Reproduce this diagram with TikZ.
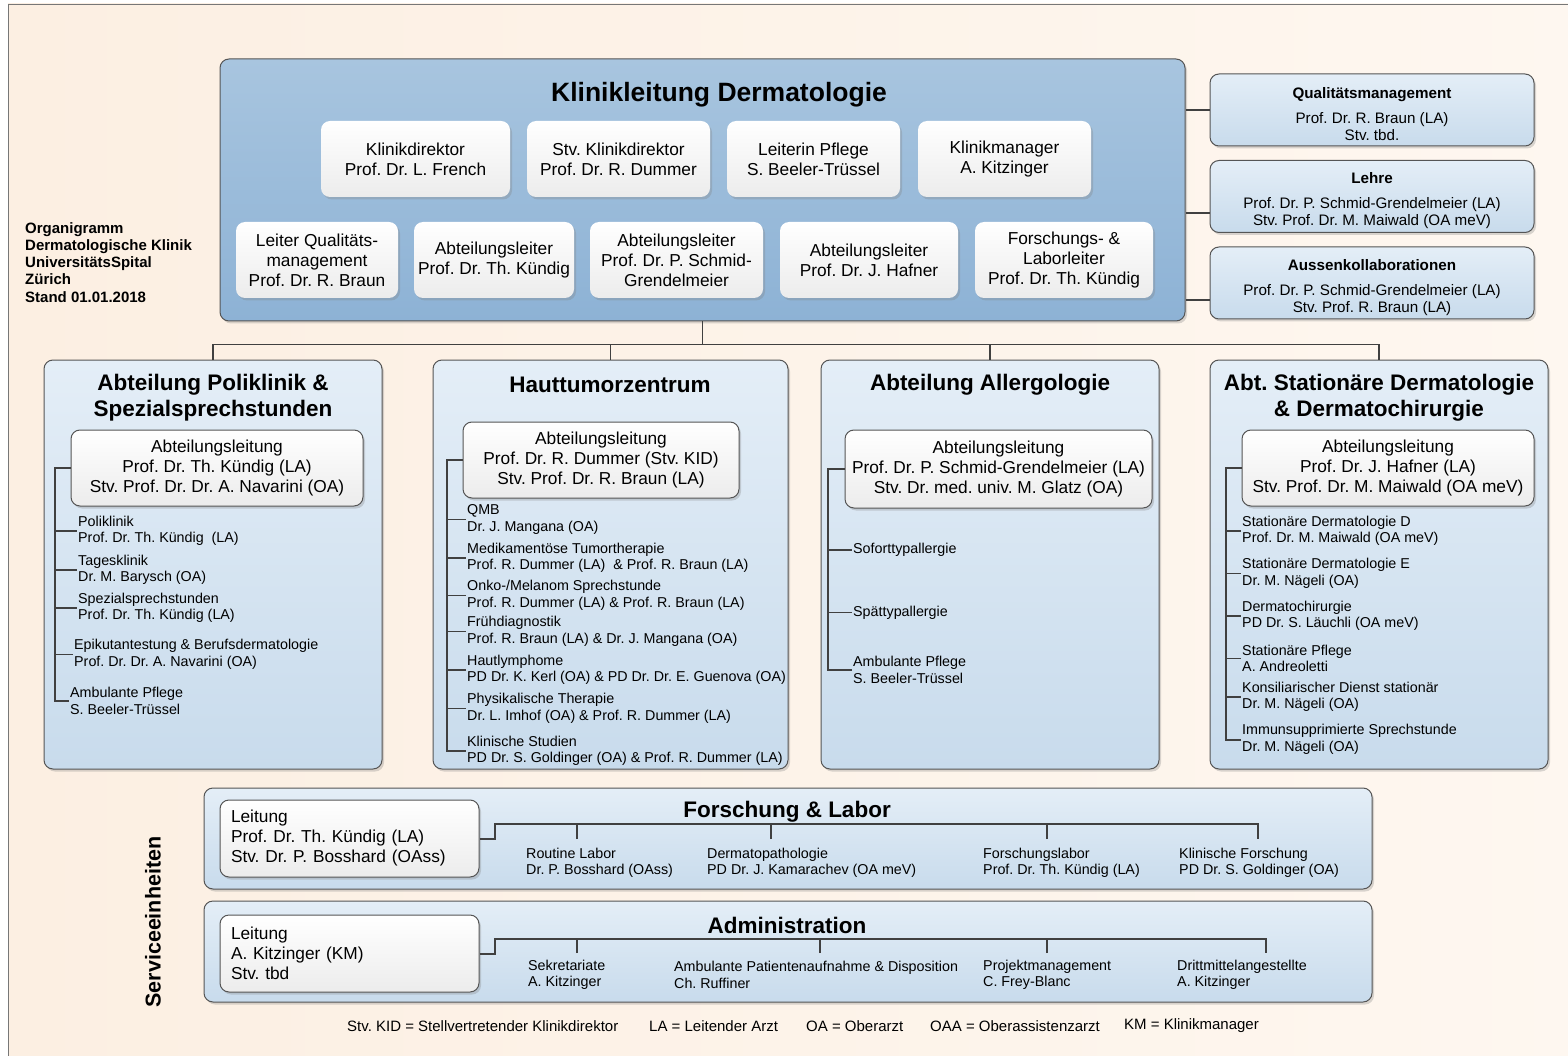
\documentclass[tikz,border=0pt]{standalone}
\usepackage{fontspec}
\setmainfont{Liberation Sans}
\usetikzlibrary{shadows}
\frenchspacing

\definecolor{bgLeft}{RGB}{252,239,226}
\definecolor{bgRight}{RGB}{254,247,240}
\definecolor{klTop}{RGB}{168,197,223}
\definecolor{klBot}{RGB}{141,178,213}
\definecolor{ltTop}{RGB}{228,238,247}
\definecolor{ltBot}{RGB}{200,219,236}
\definecolor{wBot}{RGB}{236,236,236}
\definecolor{edge}{RGB}{85,85,85}
\definecolor{wire}{RGB}{64,64,64}

\begin{document}
\begin{tikzpicture}[x=1pt,y=-1pt,
	wire/.style={draw=wire,line width=1.5pt},
	spine/.style={draw=wire,line width=2pt},
	shadebox/.style={rounded corners=9pt,drop shadow={shadow xshift=2pt,shadow yshift=-2.5pt,opacity=0.3}},
	klbox/.style={shadebox,draw=edge,line width=1pt,top color=klTop,bottom color=klBot},
	lightbox/.style={shadebox,draw=edge,line width=1pt,top color=ltTop,bottom color=ltBot},
	whitebox/.style={shadebox,top color=white,bottom color=wBot,font=\fontsize{17.3}{20}\selectfont,align=center},
	leitbox/.style={whitebox,draw=edge,line width=1pt},
	sleitbox/.style={leitbox,minimum width=259pt,minimum height=77pt,text width=237pt,inner xsep=11pt,align=left},
	sidebox/.style={lightbox,minimum width=324pt,minimum height=72pt},
	sidetext/.style={font=\fontsize{15.2}{17}\selectfont,align=center},
	deptbox/.style={lightbox,minimum height=409pt},
	servbox/.style={lightbox,minimum width=1168pt,minimum height=101pt},
	bigtitle/.style={font=\bfseries\fontsize{26.5}{30}\selectfont,yshift=-2.5pt},
	depttitle/.style={font=\bfseries\fontsize{22.5}{26}\selectfont,align=center,yshift=-2.5pt},
	item/.style={font=\fontsize{14.3}{16.5}\selectfont,align=left,anchor=west,inner sep=1.5pt,yshift=-2pt},
	legend/.style={font=\fontsize{15}{17}\selectfont,anchor=west,inner sep=0pt,yshift=-2pt}
	]
	\useasboundingbox (0,0) rectangle (1568,1056);
	\clip (0,0) rectangle (1568,1056);
	\fill[white] (0,0) rectangle (1568,1056);
	\draw[edge!80,left color=bgLeft,right color=bgRight] (8,4) rectangle (1590,1080);

	\node[font=\bfseries\fontsize{15}{17.25}\selectfont,align=left,anchor=north west,inner sep=0pt] (info) at (25,222)
		{Organigramm\\Dermatologische Klinik\\UniversitätsSpital\\Zürich\\Stand 01.01.2018};

	% Klinikleitung
	\node[klbox,minimum width=965pt,minimum height=262pt] (kl) at (702.5,190) {};
	\node[bigtitle] (kltitle) at (719,92) {Klinikleitung Dermatologie};
	\node[whitebox,minimum width=189pt,minimum height=76pt] (kd) at (415.5,159) {Klinikdirektor\\Prof. Dr. L. French};
	\node[whitebox,minimum width=183pt,minimum height=76pt] (skd) at (618.5,159) {Stv. Klinikdirektor\\Prof. Dr. R. Dummer};
	\node[whitebox,minimum width=173pt,minimum height=76pt] (lp) at (813.5,159) {Leiterin Pflege\\S. Beeler-Trüssel};
	\node[whitebox,minimum width=173pt,minimum height=76pt] (km) at (1004.5,159) {Klinikmanager\\A. Kitzinger};
	\node[whitebox,minimum width=162pt,minimum height=76pt] (lq) at (317,260) {Leiter Qualitäts-\\management\\Prof. Dr. R. Braun};
	\node[whitebox,minimum width=160pt,minimum height=76pt] (ak) at (494,260) {Abteilungsleiter\\Prof. Dr. Th. Kündig};
	\node[whitebox,minimum width=173pt,minimum height=76pt] (asg) at (676.5,260) {Abteilungsleiter\\Prof. Dr. P. Schmid-\\Grendelmeier};
	\node[whitebox,minimum width=178pt,minimum height=76pt] (ah) at (869,260) {Abteilungsleiter\\Prof. Dr. J. Hafner};
	\node[whitebox,minimum width=178pt,minimum height=76pt] (fl) at (1064,260) {Forschungs- \&\\Laborleiter\\Prof. Dr. Th. Kündig};

	% Stabsstellen
	\node[sidebox] (qm) at (1372,110) {};
	\node[sidetext] (qmt) at ([yshift=-4.5pt]qm.center) {\textbf{Qualitätsmanagement}\\[8pt]Prof. Dr. R. Braun (LA)\\Stv. tbd.};
	\node[sidebox] (le) at (1372,196.5) {};
	\node[sidetext] (let) at ([yshift=-4.5pt]le.center) {\textbf{Lehre}\\[8pt]Prof. Dr. P. Schmid-Grendelmeier (LA)\\Stv. Prof. Dr. M. Maiwald (OA meV)};
	\node[sidebox] (ak2) at (1372,283) {};
	\node[sidetext] (ak2t) at ([yshift=-4.5pt]ak2.center) {\textbf{Aussenkollaborationen}\\[8pt]Prof. Dr. P. Schmid-Grendelmeier (LA)\\Stv. Prof. R. Braun (LA)};
	\draw[wire] (kl.east |- qm.west) -- (qm.west);
	\draw[wire] ([yshift=-16.5pt]le.west -| kl.east) -- ([yshift=-16.5pt]le.west);
	\draw[wire] ([yshift=-17pt]ak2.west -| kl.east) -- ([yshift=-17pt]ak2.west);

	% Abteilungen
	\node[deptbox,minimum width=338pt] (poli) at (213,564.5) {};
	\node[deptbox,minimum width=355pt] (haut) at (610.5,564.5) {};
	\node[deptbox,minimum width=338pt] (aller) at (990,564.5) {};
	\node[deptbox,minimum width=338pt] (stat) at (1379,564.5) {};
	\draw[wire] (kl.south) -- ++(0,23) coordinate (bus);
	\draw[wire] (bus -| poli.north) -- (bus -| stat.north);
	\foreach \d in {poli,haut,aller,stat}
		\draw[wire] (bus -| \d.north) -- (\d.north);

	\node[depttitle] (politl) at (213,395) {Abteilung Poliklinik \&\\Spezialsprechstunden};
	\node[depttitle] (hauttl) at (610,382) {Hauttumorzentrum};
	\node[depttitle] (allertl) at (990,382) {Abteilung Allergologie};
	\node[depttitle] (stattl) at (1379,395) {Abt. Stationäre Dermatologie\\\& Dermatochirurgie};

	\node[leitbox,minimum width=292pt,minimum height=76pt] (pl) at (217,468) {Abteilungsleitung\\Prof. Dr. Th. Kündig (LA)\\Stv. Prof. Dr. Dr. A. Navarini (OA)};
	\node[leitbox,minimum width=276pt,minimum height=76pt] (hl) at (601,460) {Abteilungsleitung\\Prof. Dr. R. Dummer (Stv. KID)\\Stv. Prof. Dr. R. Braun (LA)};
	\node[leitbox,minimum width=307pt,minimum height=78pt] (al) at (998.5,469) {Abteilungsleitung\\Prof. Dr. P. Schmid-Grendelmeier (LA)\\Stv. Dr. med. univ. M. Glatz (OA)};
	\node[leitbox,minimum width=292pt,minimum height=76pt] (sl) at (1388,468) {Abteilungsleitung\\Prof. Dr. J. Hafner (LA)\\Stv. Prof. Dr. M. Maiwald (OA meV)};

	\foreach \x/\y/\t [count=\i] in {
		78/529/{Poliklinik\\Prof. Dr. Th. Kündig\ \ (LA)},
		78/568/{Tagesklinik\\Dr. M. Barysch (OA)},
		78/606/{Spezialsprechstunden\\Prof. Dr. Th. Kündig (LA)},
		74/652.5/{Epikutantestung \& Berufsdermatologie\\Prof. Dr. Dr. A. Navarini (OA)},
		70/699/{Ambulante Pflege\\S. Beeler-Trüssel}}
		\node[item] (p\i) at (\x-1.5,\y) {\t};
	\draw[spine] (pl.west) -- ++(-16,0) coordinate (pspine) |- (p5.west);
	\foreach \i in {1,...,4}
		\draw[wire] (p\i.west -| pspine) -- (p\i.west);

	\foreach \y/\t [count=\i] in {
		517.5/{QMB\\Dr. J. Mangana (OA)},
		556/{Medikamentöse Tumortherapie\\Prof. R. Dummer (LA)\ \ \& Prof. R. Braun (LA)},
		593.5/{Onko-/Melanom Sprechstunde\\Prof. R. Dummer (LA) \& Prof. R. Braun (LA)},
		629.5/{Frühdiagnostik\\Prof. R. Braun (LA) \& Dr. J. Mangana (OA)},
		668/{Hautlymphome\\PD Dr. K. Kerl (OA) \& PD Dr. Dr. E. Guenova (OA)},
		706.5/{Physikalische Therapie\\Dr. L. Imhof (OA) \& Prof. R. Dummer (LA)},
		749/{Klinische Studien\\PD Dr. S. Goldinger (OA) \& Prof. R. Dummer (LA)}}
		\node[item] (h\i) at (465.5,\y) {\t};
	\draw[spine] (hl.west) -- ++(-16,0) coordinate (hspine) |- (h7.west);
	\foreach \i in {1,...,6}
		\draw[wire] (h\i.west -| hspine) -- (h\i.west);

	\foreach \y/\t [count=\i] in {
		548/{Soforttypallergie},
		610.5/{Spättypallergie},
		668/{Ambulante Pflege\\S. Beeler-Trüssel}}
		\node[item] (a\i) at (851.5,\y) {\t};
	\draw[spine] (al.west) -- ++(-17,0) coordinate (aspine) |- (a3.west);
	\foreach \i in {1,2}
		\draw[wire] (a\i.west -| aspine) -- (a\i.west);

	\foreach \y/\t [count=\i] in {
		529/{Stationäre Dermatologie D\\Prof. Dr. M. Maiwald (OA meV)},
		571.5/{Stationäre Dermatologie E\\Dr. M. Nägeli (OA)},
		614/{Dermatochirurgie\\PD Dr. S. Läuchli (OA meV)},
		656.5/{Stationäre Pflege\\A. Andreoletti},
		695/{Konsiliarischer Dienst stationär\\Dr. M. Nägeli (OA)},
		737.5/{Immunsupprimierte Sprechstunde\\Dr. M. Nägeli (OA)}}
		\node[item] (s\i) at (1240.5,\y) {\t};
	\draw[spine] (sl.west) -- ++(-16,0) coordinate (sspine) |- (s6.west);
	\foreach \i in {1,...,5}
		\draw[wire] (s\i.west -| sspine) -- (s\i.west);

	% Serviceeinheiten
	\node[font=\bfseries\fontsize{21.5}{24}\selectfont,rotate=90] (serv) at (153,922) {Serviceeinheiten};

	\node[servbox] (forsch) at (788,838.5) {};
	\node[depttitle] (forschtl) at (787,809) {Forschung \& Labor};
	\node[sleitbox] (fleit) at (349.5,838.5) {Leitung\\Prof. Dr. Th. Kündig (LA)\\Stv. Dr. P. Bosshard (OAss)};
	\path (577,839) coordinate (fd1) (771,839) coordinate (fd2) (1047,839) coordinate (fd3) (1258,839) coordinate (fd4);
	\draw[spine] (fleit.east) -- ++(15,0) |- ([yshift=15pt]fd4) -- (fd4);
	\foreach \i in {1,2,3}
		\draw[wire] (fd\i) -- ([yshift=15pt]fd\i);
	\foreach \x/\t [count=\i] in {
		526/{Routine Labor\\Dr. P. Bosshard (OAss)},
		707/{Dermatopathologie\\PD Dr. J. Kamarachev (OA meV)},
		983/{Forschungslabor\\Prof. Dr. Th. Kündig (LA)},
		1179/{Klinische Forschung\\PD Dr. S. Goldinger (OA)}}
		\node[item] (fi\i) at (\x-1.5,861) {\t};

	\node[servbox] (admin) at (788,951.5) {};
	\node[depttitle] (admintl) at (787,923) {Administration};
	\node[sleitbox] (aleit) at (349.5,953.5) {Leitung\\A. Kitzinger (KM)\\Stv. tbd};
	\path (577,953) coordinate (ad1) (820,953) coordinate (ad2) (1047,953) coordinate (ad3) (1266,953) coordinate (ad4);
	\draw[spine] (aleit.east) -- ++(15,0) |- ([yshift=14pt]ad4) -- (ad4);
	\foreach \i in {1,2,3}
		\draw[wire] (ad\i) -- ([yshift=14pt]ad\i);
	\foreach \x/\t [count=\i] in {
		528/{Sekretariate\\A. Kitzinger},
		674/{Ambulante Patientenaufnahme \& Disposition\\Ch. Ruffiner},
		983/{Projektmanagement\\C. Frey-Blanc},
		1177/{Drittmittelangestellte\\A. Kitzinger}}
		\node[item] (ai\i) at (\x-1.5,973) {\t};

	% Legende
	\foreach \x/\t [count=\i] in {
		347/{Stv. KID = Stellvertretender Klinikdirektor},
		649/{LA = Leitender Arzt},
		806/{OA = Oberarzt},
		930/{OAA = Oberassistenzarzt},
		1124/{KM = Klinikmanager}}
		\node[legend] (lg\i) at (\x,1024) {\t};
\end{tikzpicture}
\end{document}
